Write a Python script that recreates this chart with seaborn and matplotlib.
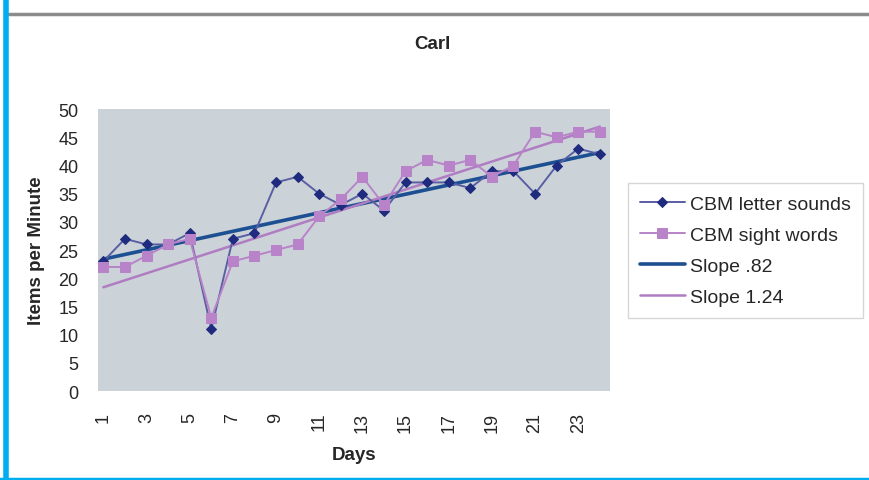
import numpy as np
import pandas as pd
import matplotlib
matplotlib.use("Agg")
import matplotlib.pyplot as plt
import seaborn as sns

# Datos
days = list(range(1, 25))
letter_sounds = [23, 27, 26, 26, 28, 11, 27, 28, 37, 38, 35, 33,
                 35, 32, 37, 37, 37, 36, 39, 39, 35, 40, 43, 42]
sight_words = [22, 22, 24, 26, 27, 13, 23, 24, 25, 26, 31, 34,
               38, 33, 39, 41, 40, 41, 38, 40, 46, 45, 46, 46]
trend_days = [1, 24]
trend_letter = [23.4, 42.3]   # Slope .82
trend_sight = [18.4, 46.9]    # Slope 1.24
tick_labels = [str(d) if d % 2 == 1 else "" for d in days]

datos = pd.DataFrame({"Dia": days, "Letter": letter_sounds, "Sight": sight_words})
tendencia = pd.DataFrame({"Dia": trend_days, "Letter": trend_letter, "Sight": trend_sight})

sns.set_style("white")
plt.rcParams["font.family"] = ["Liberation Sans", "DejaVu Sans"]

navy = "#1f2b7e"
blue_line = "#5a5ea3"
pink = "#b883c9"
trend_blue = "#1d4f93"
trend_pink = "#b07cc2"

fig = plt.figure(figsize=(8.7, 4.81), dpi=100)
ax = fig.add_axes([0.1126, 0.185, 0.588, 0.586])
ax.set_facecolor("#ccd3d8")

sns.lineplot(data=tendencia, x="Dia", y="Letter", ax=ax, color=trend_blue,
             linewidth=2.6, label="Slope .82", zorder=3)
sns.lineplot(data=tendencia, x="Dia", y="Sight", ax=ax, color=trend_pink,
             linewidth=1.8, label="Slope 1.24", zorder=3)
sns.lineplot(data=datos, x="Dia", y="Letter", ax=ax, color=blue_line,
             linewidth=1.4, marker="D", markersize=5.5, markerfacecolor=navy,
             markeredgecolor=navy, label="CBM letter sounds", zorder=4)
sns.lineplot(data=datos, x="Dia", y="Sight", ax=ax, color=pink,
             linewidth=1.4, marker="s", markersize=6.5, markerfacecolor=pink,
             markeredgecolor=pink, label="CBM sight words", zorder=5)

ax.set_xlim(0.75, 24.45)
ax.set_ylim(0, 50)
ax.set_yticks(range(0, 51, 5))
ax.set_xticks(days)
ax.set_xticklabels(tick_labels, rotation=90, fontsize=13)
ax.tick_params(axis="y", labelsize=13, length=0, pad=14)
ax.tick_params(axis="x", length=3, color="#bbbbbb", pad=12)
for s in ax.spines.values():
    s.set_visible(False)

ax.set_xlabel("Days", fontsize=13.5, fontweight="bold", labelpad=10)
ax.set_ylabel("Items per Minute", fontsize=13.5, fontweight="bold", labelpad=10)

handles, labels = ax.get_legend_handles_labels()
ax.get_legend().remove()
orden = [2, 3, 0, 1]
leg = fig.legend([handles[i] for i in orden], [labels[i] for i in orden],
                 loc="upper left", bbox_to_anchor=(0.722, 0.617),
                 borderaxespad=0, fontsize=14, frameon=True, fancybox=False,
                 handlelength=2.3, handletextpad=0.3, labelspacing=0.7,
                 borderpad=0.6)
leg.get_frame().set_edgecolor("#cccccc")
leg.get_frame().set_linewidth(1.0)

fig.text(0.497, 1 - 45 / 481, "Carl", ha="center", va="center",
         fontsize=13.5, fontweight="bold")

# Marco de la figura
fig.add_artist(plt.Line2D([9 / 870, 1], [1 - 14.5 / 481] * 2, color="#8c8c8c",
                          linewidth=2.5, transform=fig.transFigure))
fig.add_artist(plt.Line2D([6.5 / 870] * 2, [0, 1], color="#00aeef",
                          linewidth=4, transform=fig.transFigure))
fig.add_artist(plt.Line2D([0, 1], [1.5 / 481] * 2, color="#00aeef",
                          linewidth=2.5, transform=fig.transFigure))

fig.savefig("out.png", dpi=100)
